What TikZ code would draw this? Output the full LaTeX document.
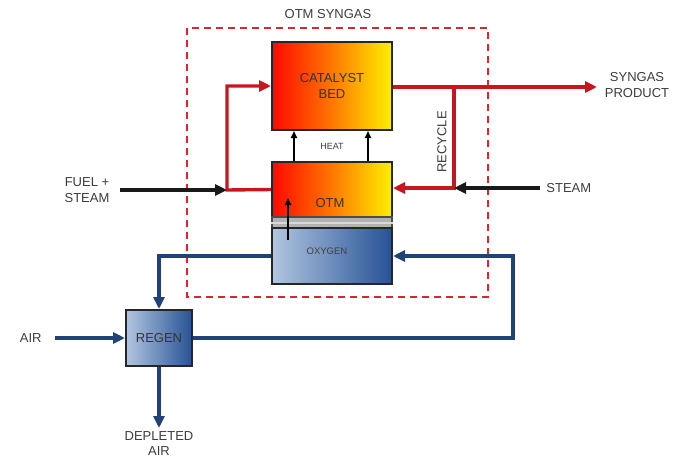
\documentclass[tikz,border=0pt]{standalone}
\usepackage{fontspec}
\setmainfont{Liberation Sans}
\usetikzlibrary{arrows.meta}
\definecolor{flowred}{RGB}{200,22,30}
\definecolor{flowblue}{RGB}{32,66,118}
\definecolor{labelgrey}{RGB}{60,60,60}
\definecolor{hotleft}{RGB}{255,8,0}
\definecolor{hotmid}{RGB}{255,120,0}
\definecolor{hotright}{RGB}{255,240,0}
\definecolor{coldleft}{RGB}{178,198,224}
\definecolor{coldright}{RGB}{38,82,150}
\definecolor{boundred}{RGB}{214,40,45}

\begin{document}
\begin{tikzpicture}[
  x=1pt,y=-1pt,line width=0.8pt,
  every node/.style={inner sep=0pt,text=labelgrey},
  lbl/.style={font=\fontsize{13}{15.5}\selectfont,align=center},
  small lbl/.style={font=\fontsize{9}{10}\selectfont},
  hot box/.style={draw=black!85,line width=2pt,minimum width=120pt,
    left color=hotleft,right color=hotright,middle color=hotmid,
    text=black!80,font=\fontsize{13}{15.5}\selectfont,align=center},
  cold box/.style={draw=black!85,line width=2pt,
    left color=coldleft,right color=coldright,
    text=black!80,font=\fontsize{13}{15.5}\selectfont},
  red flow/.style={draw=flowred,line width=3.4pt},
  blue flow/.style={draw=flowblue,line width=3.4pt},
  feed flow/.style={draw=black!90,line width=3.4pt},
  tip/.style={-{Triangle[length=12pt,width=11pt]}},
  heat/.style={black,line width=1.6pt,-{Triangle[length=7pt,width=6pt]}}
]
  \useasboundingbox (0,0) rectangle (673,459);

  % process boundary
  \draw[boundred,line width=2.2pt,dash pattern=on 7pt off 5pt]
    (187,28) rectangle (488,297);
  \node[lbl] (unitlbl) at (328,14) {OTM SYNGAS};

  \node[hot box,minimum height=88pt] (cat) at (332,86) {CATALYST\\BED};
  \node[hot box,minimum height=55pt] (otm) at (332,189.5) {};
  \node[draw=black!70,fill=black!30,line width=1.2pt,
    minimum width=120pt,minimum height=11pt] (mem) at (332,222.5) {};
  \draw[white!85!black,line width=2pt] (mem.west) -- (mem.east);
  \node[cold box,minimum width=120pt,minimum height=56pt] (oxy) at (332,256) {};
  \node[cold box,minimum width=66pt,minimum height=56pt] (regen) at (159,338) {REGEN};

  \node[font=\fontsize{13}{15.5}\selectfont,text=black!80] (otmlbl) at (330,203) {OTM};
  \node[font=\fontsize{9.5}{11}\selectfont,text=black!75] (oxylbl) at (327,251) {OXYGEN};
  \node[small lbl] (heatlbl) at (332,146) {HEAT};

  \draw[heat] ([xshift=-38]otm.north) -- ([xshift=-38]cat.south);
  \draw[heat] ([xshift=36]otm.north) -- ([xshift=36]cat.south);
  \draw[heat] (288,240) -- (288,198);

  % fuel side
  \node[lbl] (fuellbl) at (87,190) {FUEL +\\STEAM};
  \coordinate (fuelin) at (120,190);
  \coordinate (split) at (227,190);
  \draw[red flow,tip] (otm.west) -- (split) |- (cat.west);
  \draw[feed flow,tip] (fuelin) -- (split);

  % product and recycle
  \coordinate (synout) at (597,87);
  \coordinate (rectop) at (454,87);
  \coordinate (recbot) at (454,188);
  \node[lbl] (synlbl) at (637,85) {SYNGAS\\PRODUCT};
  \draw[red flow,tip] (cat.east |- rectop) -- (synout);
  \draw[red flow,tip] (rectop) -- (recbot) -- (otm.east |- recbot);
  \node[lbl,rotate=90] (reclbl) at (442,142) {RECYCLE};
  \coordinate (steamin) at (540,188);
  \node[lbl,anchor=west] (steamlbl) at (546,188) {STEAM};
  \draw[feed flow,tip] (steamin) -- (recbot);

  % air loop
  \coordinate (airin) at (55,338);
  \coordinate (depout) at (159,428);
  \coordinate (ret) at (513,256);
  \node[lbl,anchor=east] (airlbl) at (42,338) {AIR};
  \node[lbl,anchor=north] (deplbl) at (159,431) {DEPLETED\\AIR};
  \draw[blue flow,tip] (oxy.west) -| (regen.north);
  \draw[blue flow,tip] (airin) -- (regen.west);
  \draw[blue flow,tip] (regen.south) -- (depout);
  \draw[blue flow,tip] (regen.east) -| (ret) -- (oxy.east);
\end{tikzpicture}
\end{document}
